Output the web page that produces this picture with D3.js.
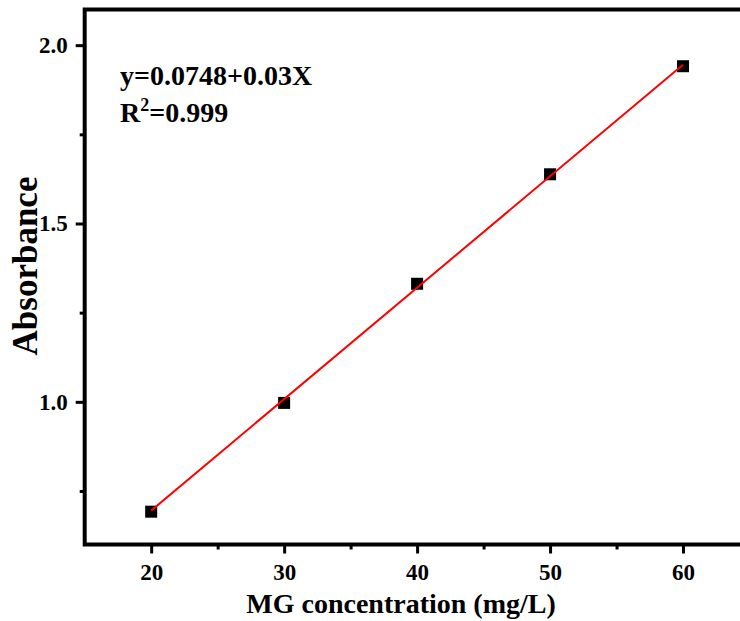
<!DOCTYPE html>
<html>
<head>
<meta charset="utf-8">
<script src="https://cdn.jsdelivr.net/npm/d3@7"></script>
<style>
    body { margin: 0; background: #fff; }
    text { font-family: "Liberation Serif", "Times New Roman", serif; font-weight: bold; }
</style>
</head>
<body>
<div id="chart"></div>
<script>
// Specifying the data
const concentration = [20, 30, 40, 50, 60];
const absorbance = [0.692, 0.997, 1.331, 1.638, 1.941];
// Fitted line end points
const fitX = [20, 60];
const fitY = [0.695, 1.945];
// Tick values
const xMajorTicks = [20, 30, 40, 50, 60];
const xMinorTicks = [25, 35, 45, 55];
const yMajorTicks = [1.0, 1.5, 2.0];
const yMinorTicks = [0.75, 1.25, 1.75];

// Setting up the svg container
const width = 740;
const height = 621;

// Plot frame (right side runs past the window)
const frame = {
    left: 84.7,
    right: 749.5,
    top: 9.5,
    bottom: 544.5
};

const svg = d3.select('#chart').append('svg')
    .attr('width', width)
    .attr('height', height);

// Scales
const x = d3.scaleLinear().domain([15, 65]).range([frame.left, frame.right]);
const y = d3.scaleLinear().domain([0.6, 2.1]).range([frame.bottom, frame.top]);

// Major and minor ticks on the bottom axis
const xAxis = d3.axisBottom(x)
    .tickValues(xMajorTicks)
    .tickSize(9)
    .tickPadding(10)
    .tickFormat(d3.format('d'));

const xAxisMinor = d3.axisBottom(x)
    .tickValues(xMinorTicks)
    .tickSize(5)
    .tickFormat('');

const gx = svg.append('g')
    .attr('transform', 'translate(0,' + frame.bottom + ')')
    .call(xAxis);
svg.append('g')
    .attr('transform', 'translate(0,' + frame.bottom + ')')
    .call(xAxisMinor)
    .select('.domain').remove();

// Major and minor ticks on the left axis
const yAxis = d3.axisLeft(y)
    .tickValues(yMajorTicks)
    .tickSize(9)
    .tickPadding(8)
    .tickFormat(d3.format('.1f'));

const yAxisMinor = d3.axisLeft(y)
    .tickValues(yMinorTicks)
    .tickSize(5)
    .tickFormat('');

const gy = svg.append('g')
    .attr('transform', 'translate(' + frame.left + ',0)')
    .call(yAxis);
svg.append('g')
    .attr('transform', 'translate(' + frame.left + ',0)')
    .call(yAxisMinor)
    .select('.domain').remove();

gx.select('.domain').remove();
gy.select('.domain').remove();

svg.selectAll('.tick line')
    .attr('stroke', '#000')
    .attr('stroke-width', 3);

gx.selectAll('.tick text')
    .attr('fill', '#000')
    .style('font-size', '23px');
gy.selectAll('.tick text')
    .attr('fill', '#000')
    .style('font-size', '23px');

// Frame box
svg.append('rect')
    .attr('x', frame.left)
    .attr('y', frame.top)
    .attr('width', frame.right - frame.left)
    .attr('height', frame.bottom - frame.top)
    .attr('fill', 'none')
    .attr('stroke', '#000')
    .attr('stroke-width', 4);

// Fitted line
const line = d3.line()
    .x(d => x(d[0]))
    .y(d => y(d[1]));

// Square markers
const markerSize = 12;
svg.selectAll('rect.point')
    .data(concentration.map((d, i) => [d, absorbance[i]]))
    .enter()
    .append('rect')
    .attr('class', 'point')
    .attr('x', d => x(d[0]) - markerSize / 2)
    .attr('y', d => y(d[1]) - markerSize / 2)
    .attr('width', markerSize)
    .attr('height', markerSize)
    .attr('fill', '#000');

// Line drawn on top so it crosses the markers
svg.append('path')
    .datum(fitX.map((d, i) => [d, fitY[i]]))
    .attr('d', line)
    .attr('fill', 'none')
    .attr('stroke', '#ff0000')
    .attr('stroke-width', 2);

// Equation text
svg.append('text')
    .attr('x', 120)
    .attr('y', 85)
    .style('font-size', '28px')
    .text('y=0.0748+0.03X');

const r2 = svg.append('text')
    .attr('x', 120)
    .attr('y', 121.5)
    .style('font-size', '28px');
r2.append('tspan').text('R');
r2.append('tspan')
    .attr('dy', -11)
    .style('font-size', '18px')
    .text('2');
r2.append('tspan')
    .attr('dy', 11)
    .text('=0.999');

// Axis titles
svg.append('text')
    .attr('x', 401)
    .attr('y', 612.5)
    .attr('text-anchor', 'middle')
    .style('font-size', '28px')
    .text('MG concentration (mg/L)');

svg.append('text')
    .attr('transform', 'translate(37,266) rotate(-90)')
    .attr('text-anchor', 'middle')
    .style('font-size', '35px')
    .text('Absorbance');
</script>
</body>
</html>
